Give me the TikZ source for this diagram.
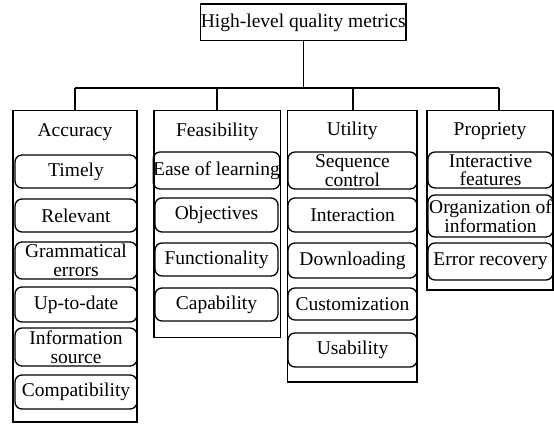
\documentclass[tikz,border=0pt]{standalone}
\usepackage{fontspec}
\setmainfont{Liberation Serif}
\newfontfamily\labelfont{Liberation Serif}
% pill-shaped item: name, x1, y1, x2, y2, text (y grows downwards)
\newcommand\pillbox[6]{%
  \node[pill, minimum width={#4-#2}, minimum height={#5-#3}]
    (#1) at ({(#2+#4)/2},{(#3+#5)/2}) {#6};}
\begin{document}
\begin{tikzpicture}[x=1pt,y=-1pt,
  every node/.style={font=\labelfont\fontsize{19.5}{18.5}\selectfont, inner sep=0pt},
  frame/.style={draw, line width=1.5pt},
  pill/.style={draw, line width=1.3pt, rounded corners=7pt, align=center},
  link/.style={line width=1.5pt}]
\useasboundingbox (0,0) rectangle (554,423);

% root
\node[frame, minimum width=205.5, minimum height=36.7] (top) at (303.25,22.35)
  {High-level quality metrics};

% category frames
\node[frame, minimum width=124,   minimum height=311.5] (acc)  at (75,266.25) {};
\node[frame, minimum width=126.5, minimum height=227]   (feas) at (217.25,224) {};
\node[frame, minimum width=129.5, minimum height=271.5] (util) at (352.25,246.25) {};
\node[frame, minimum width=126,   minimum height=179.5] (prop) at (490,200.25) {};

% category titles
\node (accT)  at (75,132)    {Accuracy};
\node (feasT) at (217.25,132) {Feasibility};
\node (utilT) at (352.25,131) {Utility};
\node (propT) at (490,131)    {Propriety};

% tree connectors
\coordinate (busL) at (75,88);
\coordinate (busR) at (499,88);
\coordinate (d2) at (217,88);
\coordinate (d3) at (353,88);
\draw[link] (top.south) -- (top.south |- busL);
\draw[link] (busL) -- (busR);
\draw[link] (busL) -- (busL |- acc.north);
\draw[link] (d2) -- (d2 |- feas.north);
\draw[link] (d3) -- (d3 |- util.north);
\draw[link] (busR) -- (busR |- prop.north);

% Accuracy items
\pillbox{a1}{15}{155}{137}{188}{Timely}
\pillbox{a2}{15}{199}{137}{232}{Relevant}
\pillbox{a3}{15}{242}{137}{279}{Grammatical\\errors}
\pillbox{a4}{15}{287}{137}{322}{Up-to-date}
\pillbox{a5}{15}{328}{137}{366}{Information\\source}
\pillbox{a6}{15}{375}{137}{409}{Compatibility}

% Feasibility items
\pillbox{f1}{155}{152}{278}{189}{Ease of learning}
\pillbox{f2}{155}{198}{278}{232}{Objectives}
\pillbox{f3}{155}{243}{278}{276}{Functionality}
\pillbox{f4}{155}{288}{278}{321}{Capability}

% Utility items
\pillbox{u1}{288}{152}{417}{189}{Sequence\\control}
\pillbox{u2}{288}{198}{417}{232}{Interaction}
\pillbox{u3}{288}{243}{417}{278}{Downloading}
\pillbox{u4}{288}{288}{417}{320}{Customization}
\pillbox{u5}{288}{333}{417}{367}{Usability}

% Propriety items
\pillbox{p1}{428}{152}{553}{188}{Interactive\\features}
\pillbox{p2}{428}{195}{553}{237}{Organization of\\information}
\pillbox{p3}{428}{243}{553}{280}{Error recovery}
\end{tikzpicture}
\end{document}
